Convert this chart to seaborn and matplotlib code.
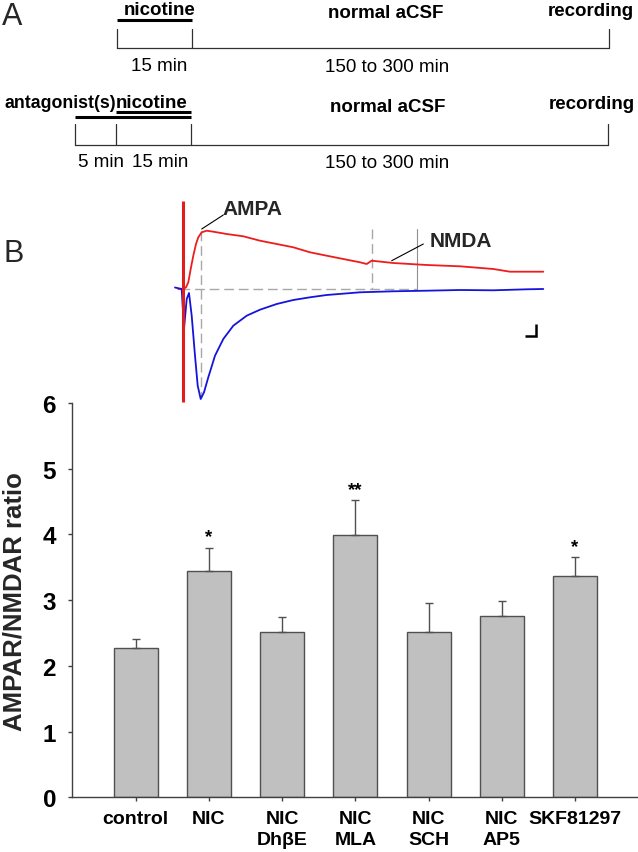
import numpy as np
import pandas as pd
import matplotlib
matplotlib.use("Agg")
import matplotlib.pyplot as plt
import seaborn as sns

# ---------------- data ----------------
categories = ["control", "NIC", "NIC\nDhβE", "NIC\nMLA", "NIC\nSCH", "NIC\nAP5", "SKF81297"]
ratio_mean = [2.27, 3.44, 2.52, 3.99, 2.52, 2.76, 3.36]
ratio_sem = [0.14, 0.36, 0.23, 0.53, 0.43, 0.23, 0.29]
significance = ["", "*", "", "**", "", "", "*"]
y_ticks = [0, 1, 2, 3, 4, 5, 6]
y_label = "AMPAR/NMDAR ratio"

# example EPSC traces (time units, current units; 0 = baseline)
ampa_t = [-8, -1.3, 1, 3.7, 6, 8.7, 12, 14.7, 17.7, 21, 25.3, 32, 40.3, 50.3, 63.7, 77,
          93.7, 110.3, 127, 143.7, 177, 210.3, 243.7, 277, 310.3, 343.7, 360.3]
ampa_i = [1.5, 0, -40, -10, -4, -26.7, -66.7, -96.7, -110, -103.3, -88.3, -66.7, -50, -36.7,
          -26.7, -20.7, -15, -11, -8.3, -6, -3.3, -2.3, -1.7, -1, -1.3, -0.3, 0]
nmda_t = [-4.7, 0.3, 3, 5.3, 7.7, 10.3, 13, 15.3, 18.7, 23.7, 30.3, 43.7, 60.3, 77, 93.7,
          110.3, 127, 143.7, 160.3, 177, 183.7, 188.7, 210.3, 243.7, 277, 310.3, 327, 360.3]
nmda_i = [0, 0, 1.7, 6.7, 20, 33.3, 45, 51.7, 56.7, 58.3, 57.3, 55, 52.7, 48.3, 45,
          41.7, 36.7, 33.3, 30, 26.7, 25, 28.3, 26, 24, 22.7, 20, 17.3, 17.3]
stim_t = -0.3
stim_range = [88.3, -113]
ampa_peak_t = 17.7
nmda_window = [188.7, 233.7]
baseline_span = [-3, 234]
scale_bar_t = [342, 353, 353]
scale_bar_i = [-47, -47, -35]

# protocol schematic (panel A, schematic pixel units)
row1_ticks = [117, 192, 609]
row1_axis_y, row1_tick_top = 49, 30
row1_bars = [(117, 192, 21)]
row2_ticks = [75, 116, 191, 608]
row2_axis_y, row2_tick_top = 146, 125
row2_bars = [(75, 191, 118), (116, 191, 113)]
proto_texts = [
    ("nicotine", 159.5, 15, "center", "bold", 13.5),
    ("normal aCSF", 386, 18, "center", "bold", 13.5),
    ("recording", 591, 15.5, "center", "bold", 13.5),
    ("15 min", 159, 70.7, "center", "normal", 13.5),
    ("150 to 300 min", 387, 71.5, "center", "normal", 13.5),
    ("antagonist(s)", 116, 108.5, "right", "bold", 12.8),
    ("nicotine", 116, 108.5, "left", "bold", 13.5),
    ("normal aCSF", 387.5, 112, "center", "bold", 13.5),
    ("recording", 592, 109, "center", "bold", 13.5),
    ("5 min", 101, 167, "center", "normal", 13.5),
    ("15 min", 160, 167, "center", "normal", 13.5),
    ("150 to 300 min", 387, 168, "center", "normal", 13.5),
]

# ---------------- figure ----------------
sns.set_theme(style="white")
plt.rcParams["font.family"] = ["Liberation Sans", "DejaVu Sans"]
W, H = 638, 853
fig = plt.figure(figsize=(W / 100, H / 100), dpi=100)
fig.patch.set_facecolor("white")


def rect(x0, y0, x1, y1):
    return [x0 / W, 1 - y1 / H, (x1 - x0) / W, (y1 - y0) / H]


# ---- bar chart ----
ax = fig.add_axes(rect(72, 404, 638, 798.3))
df = pd.DataFrame({"condition": categories, "ratio": ratio_mean})
sns.barplot(data=df, x="condition", y="ratio", color="#c0c0c0", saturation=1,
            edgecolor="#505050", linewidth=1.0, width=0.6, errorbar=None, ax=ax)
xpos = np.arange(len(categories))
ax.errorbar(xpos, ratio_mean, yerr=[np.zeros(len(ratio_sem)), ratio_sem], fmt="none",
            ecolor="#505050", elinewidth=1.0, capsize=2.9, capthick=1.0, zorder=1)
for i, s in enumerate(significance):
    if s:
        ax.annotate(s, (xpos[i], ratio_mean[i] + ratio_sem[i]), xytext=(0, 8),
                    textcoords="offset points", ha="center", va="center",
                    fontsize=13.5, fontweight="bold", color="black")
ax.set_xlim(-0.87, 6.86)
ax.set_ylim(0, 6)
ax.set_yticks(y_ticks)
ax.set_yticklabels([str(v) for v in y_ticks])
ax.set_xlabel("")
ax.set_ylabel(y_label, fontsize=18.5, fontweight="bold", va="center")
ax.yaxis.set_label_coords((14.5 - 72) / 566, 0.5)
sns.despine(ax=ax)
for sp in ["left", "bottom"]:
    ax.spines[sp].set_color("#404040")
    ax.spines[sp].set_linewidth(1.0)
ax.tick_params(axis="both", direction="out", length=3, width=1, color="#404040",
               left=True, bottom=True)
ax.tick_params(axis="y", labelsize=17.5, pad=8.5)
ax.tick_params(axis="x", labelsize=14, pad=6)
for lab in ax.get_yticklabels() + ax.get_xticklabels():
    lab.set_fontweight("bold")
    lab.set_color("black")
for lab in ax.get_xticklabels():
    lab.set_linespacing(1.32)
ax.set_facecolor("none")

# ---- traces ----
tr = fig.add_axes(rect(160, 190, 560, 410))
tr.set_xlim(-23, 377)
tr.set_ylim(-120, 100)
tr.axis("off")
tr.patch.set_alpha(0)
dash = (0, (7, 3.5))
gray = "#a8a8a8"
tr.plot(baseline_span, [0, 0], color=gray, lw=1.0, ls=dash)
tr.plot([ampa_peak_t, ampa_peak_t], [58.3, -108], color=gray, lw=1.0, ls=dash)
tr.plot([nmda_window[0]] * 2, [60, 0], color=gray, lw=1.0, ls=dash)
tr.plot([nmda_window[1]] * 2, [60, 0], color="#909090", lw=0.8)
sns.lineplot(x=nmda_t, y=nmda_i, sort=False, estimator=None, color="#ee1c1c", lw=1.3, ax=tr)
sns.lineplot(x=ampa_t, y=ampa_i, sort=False, estimator=None, color="#1414dc", lw=1.3, ax=tr)
tr.plot([stim_t, stim_t], stim_range, color="#e01e1e", lw=2.2, solid_capstyle="butt")
tr.plot(scale_bar_t, scale_bar_i, color="black", lw=1.8, solid_capstyle="butt",
        solid_joinstyle="miter")
tr.plot([18.7, 40.3], [60, 74], color="black", lw=0.8)
tr.text(39.7, 75, "AMPA", fontsize=15, fontweight="bold", ha="left", va="baseline")
tr.plot([208.7, 240.3], [28.3, 45], color="black", lw=0.8)
tr.text(247, 43.3, "NMDA", fontsize=15, fontweight="bold", ha="left", va="baseline")
tr.set_xlabel("")
tr.set_ylabel("")
if tr.get_legend():
    tr.get_legend().remove()

# ---- protocol schematic ----
pa = fig.add_axes(rect(0, 0, 638, 175))
pa.set_xlim(0, W)
pa.set_ylim(175, 0)
pa.axis("off")
pa.patch.set_alpha(0)
for ticks, ay, tt, bars in [(row1_ticks, row1_axis_y, row1_tick_top, row1_bars),
                            (row2_ticks, row2_axis_y, row2_tick_top, row2_bars)]:
    pa.plot([ticks[0], ticks[-1]], [ay, ay], color="#303030", lw=0.9)
    for tx in ticks:
        pa.plot([tx, tx], [tt, ay], color="#303030", lw=0.9)
    for x0, x1, by in bars:
        pa.plot([x0, x1], [by, by], color="black", lw=2.2, solid_capstyle="butt")
for txt, x, y, ha, wt, fs in proto_texts:
    pa.text(x, y, txt, fontsize=fs, fontweight=wt, ha=ha, va="baseline", color="black")

fig.text(2 / W, 1 - 25 / H, "A", fontsize=22, ha="left", va="baseline")
fig.text(3 / W, 1 - 262 / H, "B", fontsize=22, ha="left", va="baseline")

fig.savefig("out.png", dpi=100, facecolor="white")
